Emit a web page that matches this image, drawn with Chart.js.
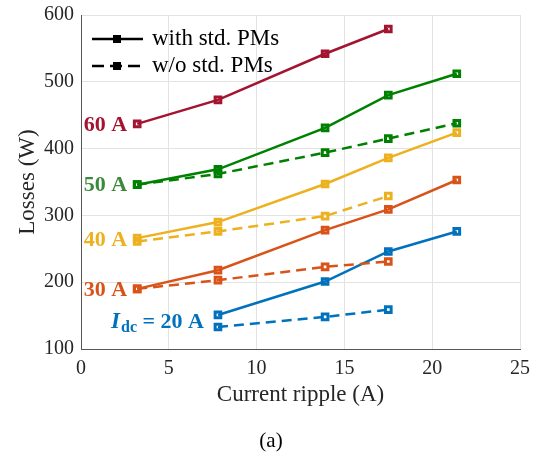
<!DOCTYPE html>
<html>
<head>
<meta charset="utf-8">
<script src="https://cdn.jsdelivr.net/npm/chart.js@4.4.0/dist/chart.umd.min.js"></script>
<style>
  html, body { margin: 0; padding: 0; background: #fff; }
  #wrap { width: 533px; height: 453px; }
</style>
</head>
<body>
<div id="wrap"><canvas id="chart" width="533" height="453"></canvas></div>
<script>
// ------------------------
// Data
// ------------------------
const ripple = [3.2, 7.8, 13.9, 17.5, 21.4]

const with60 = [437, 473, 542, 579, null]
const with50 = [346, 369, 431, 480, 512]
const wo50 = [346, 362, 394, 415, 438]
const with40 = [266, 290, 347, 386, 424]
const wo40 = [261, 276, 299, 329, null]
const with30 = [190, 218, 278, 309, 353]
const wo30 = [190, 203, 223, 231, null]
const with20 = [null, 151, 201, 246, 276]
const wo20 = [null, 133, 148, 159, null]

const xTicks = [0, 5, 10, 15, 20, 25]
const yTicks = [100, 200, 300, 400, 500, 600]

const legendLabels = ['with std. PMs', 'w/o std. PMs']
const currentLabels = ['60 A', '50 A', '40 A', '30 A', '20 A']

// ------------------------
// Helpers
// ------------------------
const FONT = '"Liberation Serif", "Times New Roman", serif'
const DASH = [10, 6]

const toPoints = (ys) =>
  ys.map((y, i) => ({ x: ripple[i], y })).filter((p) => p.y !== null)

const series = (label, ys, color, dashed) => ({
  label,
  data: toPoints(ys),
  borderColor: color,
  backgroundColor: color,
  borderWidth: 2.5,
  borderDash: dashed ? DASH : [],
  pointStyle: 'rect',
  pointRadius: 4,
  pointBorderWidth: 3,
  pointBorderColor: color,
  pointBackgroundColor: 'rgba(0,0,0,0)',
  tension: 0,
})

const colors = {
  a60: '#A2142F',
  a50: '#008000',
  a40: '#EDB120',
  a30: '#D95319',
  a20: '#0072BD',
}

// keep the plot box where the reference has it
const noScalePadding = (s) => {
  s.paddingTop = 0
  s.paddingBottom = 0
  s.paddingLeft = 0
  s.paddingRight = 0
}

// ------------------------
// Annotations (legend + current labels)
// ------------------------
const annotate = {
  id: 'annotate',
  afterDatasetsDraw(chart) {
    const { ctx, scales } = chart
    const xs = scales.x
    const ys = scales.y
    ctx.save()

    // legend, top-left inside the axes
    legendLabels.forEach((text, i) => {
      const y = 39 + i * 27
      ctx.strokeStyle = '#000'
      ctx.lineWidth = 2.5
      ctx.setLineDash(i === 0 ? [] : [12, 6])
      ctx.beginPath()
      ctx.moveTo(92, y)
      ctx.lineTo(143, y)
      ctx.stroke()
      ctx.setLineDash([])
      ctx.lineWidth = 3
      ctx.strokeRect(114.5, y - 2.5, 5, 5)
      ctx.fillStyle = '#000'
      ctx.font = `23px ${FONT}`
      ctx.textAlign = 'left'
      ctx.textBaseline = 'middle'
      ctx.fillText(text, 152, y)
    })

    // current labels, left of the first marker of each group
    const groups = [
      [with60, null, '#A2142F'],
      [with50, wo50, '#3B8A3B'],
      [with40, wo40, colors.a40],
      [with30, wo30, colors.a30],
      [with20, wo20, colors.a20],
    ]
    groups.forEach(([a, b, color], i) => {
      const idx = a.findIndex((v) => v !== null)
      const yv = b ? (a[idx] + b[idx]) / 2 : a[idx]
      const px = xs.getPixelForValue(ripple[idx]) - (i < 4 ? 10 : 14)
      const py = ys.getPixelForValue(yv) + 1
      ctx.fillStyle = color
      ctx.textBaseline = 'middle'
      ctx.textAlign = 'right'
      ctx.font = `bold 22px ${FONT}`
      if (i < 4) {
        ctx.fillText(currentLabels[i], px, py)
      } else {
        const rest = ' = ' + currentLabels[i]
        const wRest = ctx.measureText(rest).width
        ctx.fillText(rest, px, py)
        ctx.font = `bold 16px ${FONT}`
        const wSub = ctx.measureText('dc').width
        ctx.textAlign = 'left'
        ctx.fillText('dc', px - wRest - wSub, py + 6)
        ctx.font = `italic bold 23px ${FONT}`
        ctx.textAlign = 'right'
        ctx.fillText('I', px - wRest - wSub - 1, py)
      }
    })

    // caption
    ctx.fillStyle = '#000'
    ctx.font = `21px ${FONT}`
    ctx.textAlign = 'center'
    ctx.textBaseline = 'middle'
    ctx.fillText('(a)', 271, 441)
    ctx.restore()
  },
}

// ------------------------
// Chart
// ------------------------
new Chart(document.querySelector('#chart'), {
  type: 'line',
  data: {
    datasets: [
      series('60 A with', with60, colors.a60, false),
      series('50 A with', with50, colors.a50, false),
      series('50 A w/o', wo50, colors.a50, true),
      series('40 A with', with40, colors.a40, false),
      series('40 A w/o', wo40, colors.a40, true),
      series('30 A with', with30, colors.a30, false),
      series('30 A w/o', wo30, colors.a30, true),
      series('20 A with', with20, colors.a20, false),
      series('20 A w/o', wo20, colors.a20, true),
    ],
  },
  options: {
    responsive: false,
    animation: false,
    layout: { padding: { left: 10, right: 13, top: 15, bottom: 44 } },
    plugins: {
      legend: { display: false },
      tooltip: { enabled: false },
    },
    scales: {
      x: {
        type: 'linear',
        min: 0,
        max: 25,
        afterBuildTicks: (s) => { s.ticks = xTicks.map((v) => ({ value: v })) },
        afterFit: (s) => { s.height = 60; noScalePadding(s) },
        grid: { color: '#e3e3e3', drawTicks: false, lineWidth: 1 },
        border: { color: '#555', width: 1 },
        ticks: { color: '#262626', font: { family: FONT, size: 20 }, padding: 8 },
        title: {
          display: true,
          text: 'Current ripple (A)',
          color: '#262626',
          font: { family: FONT, size: 23 },
          padding: { top: 0, bottom: 0 },
        },
      },
      y: {
        min: 100,
        max: 600,
        afterBuildTicks: (s) => { s.ticks = yTicks.map((v) => ({ value: v })) },
        afterFit: (s) => { s.width = 71; noScalePadding(s) },
        grid: { color: '#e3e3e3', drawTicks: false, lineWidth: 1 },
        border: { color: '#555', width: 1 },
        ticks: { color: '#262626', font: { family: FONT, size: 20 }, padding: 7 },
        title: {
          display: true,
          text: 'Losses (W)',
          color: '#262626',
          font: { family: FONT, size: 23 },
          padding: { top: 4, bottom: 0 },
        },
      },
    },
  },
  plugins: [annotate],
})
</script>
</body>
</html>
